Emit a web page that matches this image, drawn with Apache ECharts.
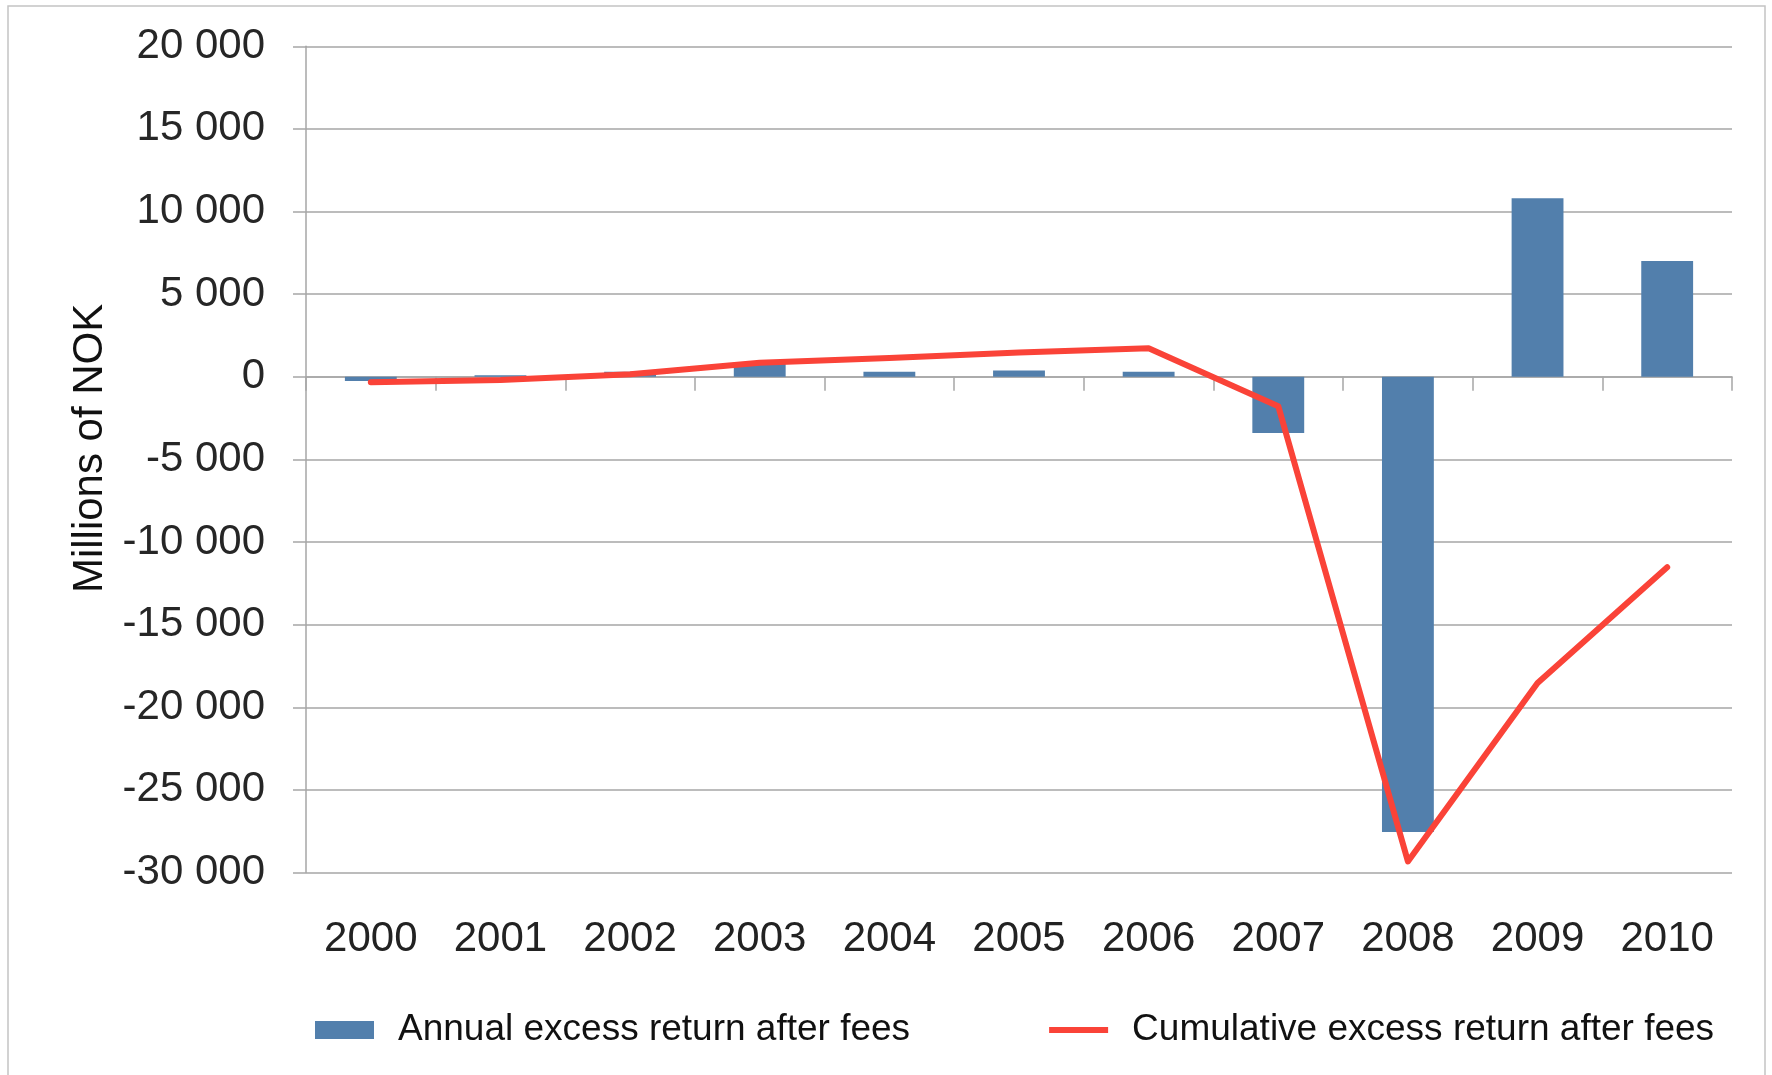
<!DOCTYPE html>
<html>
<head>
<meta charset="utf-8">
<title>Excess return after fees</title>
<script src="https://cdn.jsdelivr.net/npm/echarts@6/dist/echarts.min.js"></script>
<style>
  html, body { margin: 0; padding: 0; background: #ffffff; }
  #chart { width: 1772px; height: 1075px; }
</style>
</head>
<body>
<div id="chart"></div>
<script>
// Years on the category axis
const years = ['2000', '2001', '2002', '2003', '2004', '2005', '2006', '2007', '2008', '2009', '2010'];

// Annual excess return after fees, millions of NOK
const annualExcess = [-250, 100, 300, 850, 300, 380, 300, -3400, -27550, 10800, 7000];

// Cumulative excess return after fees, millions of NOK
const cumulativeExcess = [-330, -200, 150, 850, 1140, 1470, 1720, -1780, -29330, -18530, -11530];

// Value axis range and step
const yMin = -30000;
const yMax = 20000;
const yStep = 5000;

const seriesNames = ['Annual excess return after fees', 'Cumulative excess return after fees'];

const FONT = '"Liberation Sans", Arial, sans-serif';
const GRID_GREY = '#a6a6a6';
const BAR_BLUE = '#527fac';
const LINE_RED = '#fa4338';

// Thousands separated by a space, e.g. -30 000
function spaced(v) {
  const s = String(Math.abs(v)).replace(/\B(?=(\d{3})+(?!\d))/g, ' ');
  return (v < 0 ? '-' : '') + s;
}

const chart = echarts.init(document.getElementById('chart'), null, { renderer: 'canvas' });

chart.setOption({
  backgroundColor: '#ffffff',
  animation: false,
  textStyle: { fontFamily: FONT },
  graphic: [{
    type: 'rect',
    shape: { x: 8, y: 6, width: 1757, height: 1200 },
    style: { fill: 'none', stroke: '#c4c4c4', lineWidth: 1.5 },
    silent: true,
    z: -1
  }],
  grid: { left: 306, right: 40, top: 46.3, bottom: 202.5, containLabel: false },
  legend: {
    left: 310,
    top: 1005,
    itemGap: 139,
    itemWidth: 59,
    itemHeight: 18,
    data: [
      { name: seriesNames[0], icon: 'rect' },
      // plain stroke for the line series, no marker dot
      { name: seriesNames[1], icon: 'path://M0,0H60V6H0Z' }
    ],
    textStyle: {
      fontFamily: FONT,
      fontSize: 37,
      lineHeight: 40,
      color: '#111111',
      padding: [0, 0, 0, 19]
    }
  },
  xAxis: [{
    type: 'category',
    data: years,
    position: 'bottom',
    boundaryGap: true,
    axisLine: { show: true, onZero: true, lineStyle: { color: GRID_GREY, width: 1.5 } },
    axisTick: { show: true, inside: false, length: 14, lineStyle: { color: GRID_GREY, width: 1.5 } },
    axisLabel: { show: false },
    splitLine: { show: false }
  }, {
    type: 'category',
    data: years,
    position: 'bottom',
    boundaryGap: true,
    axisLine: { show: false, onZero: false },
    axisTick: { show: false },
    splitLine: { show: false },
    axisLabel: {
      show: true,
      margin: 46,
      fontFamily: FONT,
      fontSize: 42,
      lineHeight: 42,
      color: '#222222'
    }
  }],
  yAxis: {
    type: 'value',
    min: yMin,
    max: yMax,
    interval: yStep,
    name: 'Millions of NOK',
    nameLocation: 'middle',
    nameRotate: 90,
    nameGap: 180,
    nameTextStyle: {
      fontFamily: FONT,
      fontSize: 42,
      lineHeight: 42,
      color: '#111111',
      padding: [0, 0, 0, 22]
    },
    axisLine: { show: true, lineStyle: { color: GRID_GREY, width: 1.5 } },
    axisTick: { show: true, inside: false, length: 13, lineStyle: { color: GRID_GREY, width: 1.5 } },
    splitLine: { show: true, lineStyle: { color: GRID_GREY, width: 1.5 } },
    axisLabel: {
      margin: 41,
      fontFamily: FONT,
      fontSize: 42,
      color: '#262626',
      formatter: spaced
    }
  },
  series: [{
    name: seriesNames[0],
    type: 'bar',
    xAxisIndex: 0,
    data: annualExcess,
    barWidth: '40%',
    itemStyle: { color: BAR_BLUE },
    z: 2
  }, {
    name: seriesNames[1],
    type: 'line',
    xAxisIndex: 0,
    data: cumulativeExcess,
    symbol: 'none',
    smooth: false,
    lineStyle: { color: LINE_RED, width: 6, join: 'round', cap: 'round' },
    itemStyle: { color: LINE_RED },
    z: 3
  }]
});
</script>
</body>
</html>
